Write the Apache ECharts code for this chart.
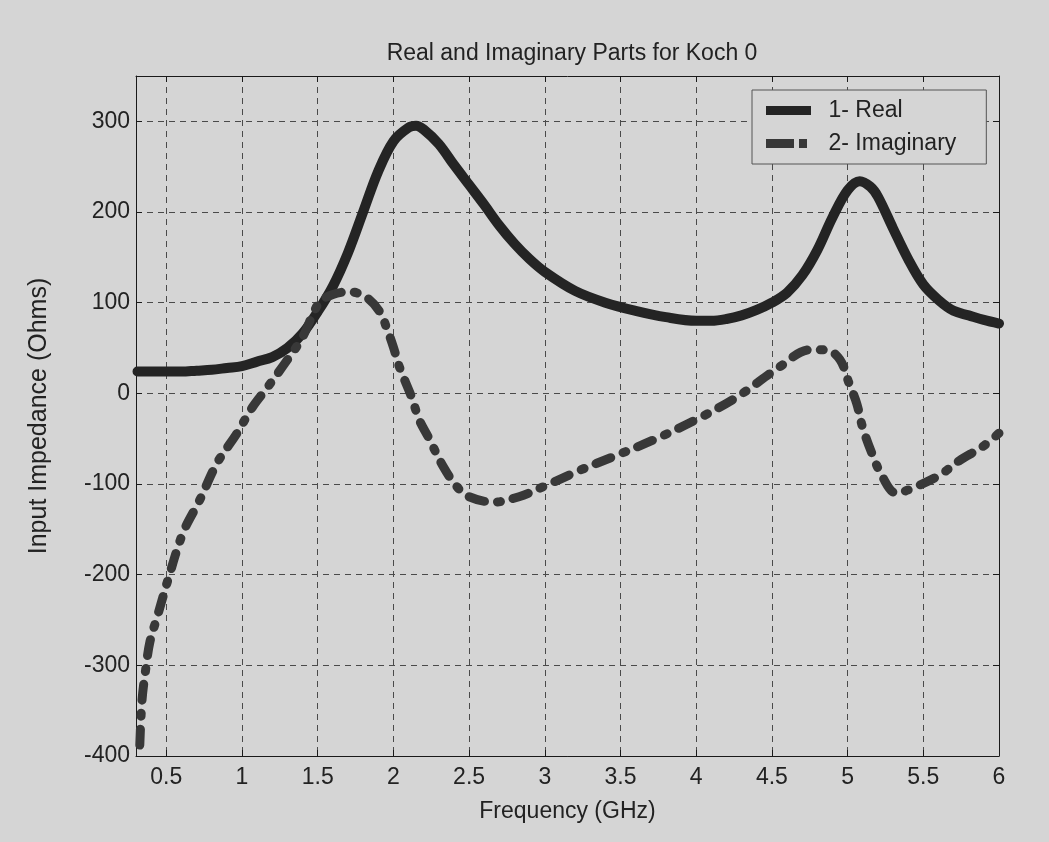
<!DOCTYPE html>
<html>
<head>
<meta charset="utf-8">
<title>Real and Imaginary Parts for Koch 0</title>
<script src="https://cdn.jsdelivr.net/npm/echarts@6/dist/echarts.min.js"></script>
<style>
  html, body { margin: 0; padding: 0; background: #d5d5d5; }
  #chart { width: 1049px; height: 842px; }
</style>
</head>
<body>
<div id="chart"></div>
<script>
// Input impedance of the Koch 0 antenna versus frequency
const realFreq = [0.31, 0.4, 0.5, 0.6, 0.7, 0.8, 0.9, 1.0, 1.1, 1.2, 1.3, 1.4, 1.5, 1.6, 1.7, 1.8, 1.9,
  2.0, 2.1, 2.15, 2.2, 2.3, 2.4, 2.5, 2.6, 2.7, 2.8, 2.9, 3.0, 3.2, 3.4, 3.6, 3.8, 4.0, 4.1, 4.2,
  4.3, 4.4, 4.5, 4.6, 4.7, 4.8, 4.9, 5.0, 5.08, 5.15, 5.2, 5.3, 5.4, 5.5, 5.6, 5.7, 5.8, 5.9, 6.0];
const realOhms = [24, 24, 24, 24, 25, 26, 28, 30, 35, 40, 50, 66, 90, 118, 155, 200, 245,
  278, 293, 295, 291, 275, 252, 230, 208, 185, 165, 148, 134, 113, 100, 91, 84, 80, 80, 82,
  86, 92, 100, 111, 130, 158, 194, 224, 234, 228, 217, 182, 148, 120, 103, 91, 86, 81, 77];

const imagFreq = [0.325, 0.34, 0.366, 0.392, 0.439, 0.472, 0.505, 0.61, 0.72, 0.835, 0.967, 1.07,
  1.17, 1.3, 1.4, 1.51, 1.6, 1.71, 1.82, 1.91, 1.96, 2.0, 2.04, 2.12, 2.17, 2.23, 2.33, 2.42,
  2.5, 2.66, 2.83, 2.99, 3.23, 3.45, 3.71, 4.0, 4.27, 4.55, 4.75, 4.86, 4.95, 5.01, 5.06, 5.1,
  5.16, 5.23, 5.32, 5.45, 5.61, 5.74, 5.89, 6.0];
const imagOhms = [-388, -338, -302, -274, -247, -228, -209, -154, -118, -77, -44, -15,
  7, 37, 62, 100, 109, 112, 106, 90, 70, 51, 29, -4, -29, -48, -81, -103,
  -114, -120, -114, -103, -85, -70, -52, -29, -4, 29, 48, 48, 37, 11, -11, -38,
  -66, -92, -110, -103, -90, -74, -59, -44];

const freqTicks = [0.5, 1, 1.5, 2, 2.5, 3, 3.5, 4, 4.5, 5, 5.5, 6];
const ohmTicks = [-400, -300, -200, -100, 0, 100, 200, 300];
const seriesNames = ['1- Real', '2- Imaginary'];

const pair = (xs, ys) => xs.map((x, i) => [x, ys[i]]);

const FONT = '"Liberation Sans", Arial, Helvetica, sans-serif';
const INK = '#222';
const FS = 23;
const GRID_LINE = { show: true, lineStyle: { color: '#4a4a4a', width: 1, type: [6, 5] } };

function freqAxis(isMain) {
  return {
    type: 'value', min: 0.3, max: 6,
    position: isMain ? 'bottom' : 'top',
    name: isMain ? 'Frequency (GHz)' : '',
    nameLocation: 'middle', nameGap: 44,
    nameTextStyle: { fontFamily: FONT, fontSize: FS, color: INK },
    axisLine: { show: true, onZero: false, lineStyle: { color: '#1a1a1a', width: 1 } },
    axisTick: { show: true, inside: true, length: 6, customValues: freqTicks,
      lineStyle: { color: '#1a1a1a' } },
    axisLabel: { show: isMain, customValues: freqTicks, margin: 10,
      fontFamily: FONT, fontSize: FS, color: INK },
    splitLine: isMain ? GRID_LINE : { show: false }
  };
}

function ohmAxis(isMain) {
  return {
    type: 'value', min: -400, max: 350,
    position: isMain ? 'left' : 'right',
    name: isMain ? 'Input Impedance (Ohms)' : '',
    nameLocation: 'middle', nameGap: 84, nameRotate: 90,
    nameTextStyle: { fontFamily: FONT, fontSize: 25, color: INK },
    axisLine: { show: true, onZero: false, lineStyle: { color: '#1a1a1a', width: 1 } },
    axisTick: { show: true, inside: true, length: 6, customValues: ohmTicks,
      lineStyle: { color: '#1a1a1a' } },
    axisLabel: { show: isMain, customValues: ohmTicks, margin: 6,
      fontFamily: FONT, fontSize: FS, color: INK },
    splitLine: isMain ? GRID_LINE : { show: false }
  };
}

// legend swatches: a solid bar, and a bar followed by a short block
const REAL_ICON = 'path://M0,0H45V9H0Z';
const IMAG_ICON = 'path://M0,0H28V9H0Z M33,0H41V9H33Z M45,9';

const chart = echarts.init(document.getElementById('chart'), null, { renderer: 'canvas' });
chart.setOption({
  backgroundColor: '#d5d5d5',
  animation: false,
  title: {
    text: 'Real and Imaginary Parts for Koch 0',
    left: 567, top: 37, textAlign: 'center',
    textStyle: { fontFamily: FONT, fontSize: FS, fontWeight: 'normal', color: INK }
  },
  grid: { left: 136, right: 50, top: 76, bottom: 86, containLabel: false },
  legend: {
    data: [
      { name: seriesNames[0], icon: REAL_ICON },
      { name: seriesNames[1], icon: IMAG_ICON }
    ],
    orient: 'vertical',
    left: 752, top: 90,
    padding: [9, 30, 9, 14],
    itemWidth: 46, itemHeight: 9, itemGap: 10,
    backgroundColor: '#d5d5d5',
    borderColor: '#555', borderWidth: 1,
    itemStyle: { borderWidth: 0 },
    textStyle: { fontFamily: FONT, fontSize: FS, color: INK, padding: [0, 0, 0, 12] }
  },
  xAxis: [freqAxis(true), freqAxis(false)],
  yAxis: [ohmAxis(true), ohmAxis(false)],
  series: [
    {
      name: seriesNames[0], type: 'line', xAxisIndex: 0, yAxisIndex: 0,
      data: pair(realFreq, realOhms),
      smooth: 0.35, showSymbol: false, symbol: 'none',
      lineStyle: { color: '#242424', width: 10, cap: 'round', join: 'round' },
      itemStyle: { color: '#242424' }
    },
    {
      name: seriesNames[1], type: 'line', xAxisIndex: 0, yAxisIndex: 0,
      data: pair(imagFreq, imagOhms),
      smooth: 0.35, showSymbol: false, symbol: 'none',
      lineStyle: { color: '#383838', width: 9, cap: 'round', join: 'round', type: [16, 13, 3, 13] },
      itemStyle: { color: '#383838' }
    }
  ]
});
</script>
</body>
</html>
